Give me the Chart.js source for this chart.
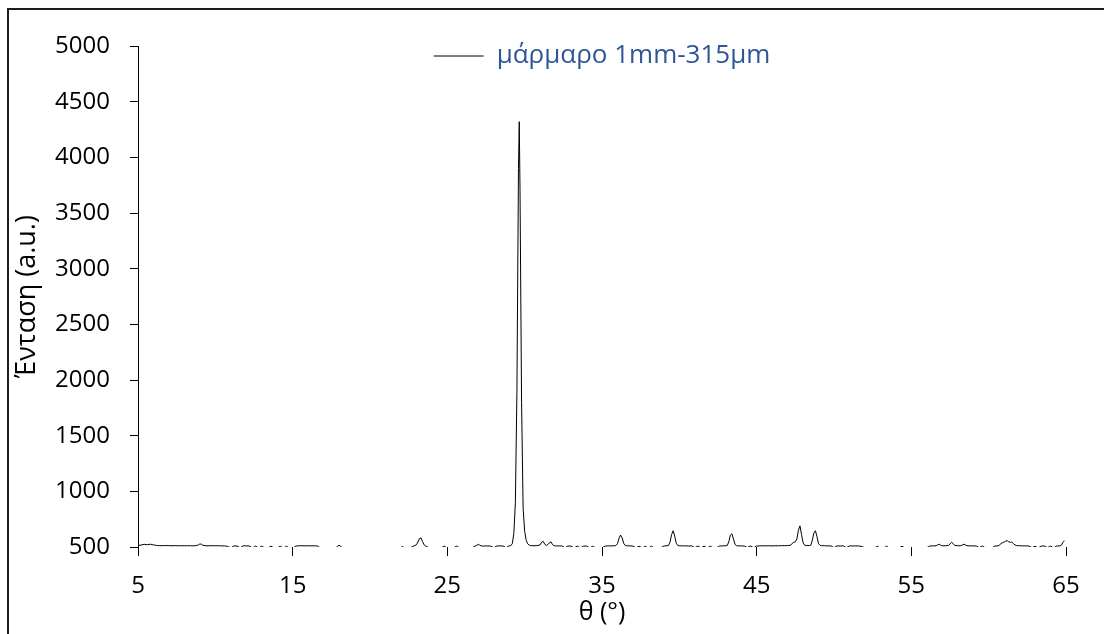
<!DOCTYPE html>
<html>
<head>
<meta charset="utf-8">
<script src="https://cdn.jsdelivr.net/npm/chart.js@4.4.1/dist/chart.umd.min.js"></script>
<style>
  html, body { margin: 0; padding: 0; background: #fff; overflow: hidden; }
  #wrap { position: relative; width: 1104px; height: 634px; }
  #xrd { position: absolute; left: 0; top: 0; }
  #frame { position: absolute; left: 7px; top: 8px; width: 1200px; height: 800px;
           border-left: 2px solid #1e1e1e; border-top: 2px solid #1e1e1e; pointer-events: none; }
</style>
</head>
<body>
<div id="wrap">
  <canvas id="xrd" width="1104" height="634"></canvas>
  <div id="frame"></div>
</div>
<script>
// 2θ (deg) and intensity
const angle = [
  5.0, 5.2, 5.4, 5.6, 5.8, 6.0, 6.2, 6.4, 6.6, 6.8, 7.0, 7.2, 7.4, 7.6, 7.8, 8.0, 8.2, 8.4, 8.6, 8.8,
  8.9, 9.0, 9.1, 9.2, 9.4, 9.6, 9.8, 10.0, 10.2, 10.4, 10.6, 10.8, 11.0, 11.2, 11.4, 11.6, 11.8, 12.0,
  12.2, 12.4, 12.6, 12.8, 13.0, 13.2, 13.4, 13.6, 13.8, 14.0, 14.2, 14.4, 14.6, 14.8, 15.0, 15.2, 15.4,
  15.6, 15.8, 16.0, 16.2, 16.4, 16.6, 16.8, 17.0, 17.2, 17.4, 17.6, 17.8, 17.9, 18.0, 18.1, 18.2, 18.4,
  18.6, 18.8, 19.0, 19.2, 19.4, 19.6, 19.8, 20.0, 20.2, 20.4, 20.6, 20.8, 21.0, 21.2, 21.4, 21.6, 21.8,
  22.0, 22.1, 22.2, 22.4, 22.6, 22.8, 23.0, 23.1, 23.2, 23.3, 23.4, 23.5, 23.6, 23.8, 24.0, 24.2, 24.4,
  24.6, 24.8, 25.0, 25.2, 25.4, 25.6, 25.8, 26.0, 26.2, 26.4, 26.6, 26.8, 26.9, 27.0, 27.1, 27.2, 27.4,
  27.6, 27.8, 28.0, 28.2, 28.4, 28.6, 28.8, 29.0, 29.1, 29.2, 29.3, 29.4, 29.5, 29.6, 29.65, 29.7, 29.8,
  29.9, 30.0, 30.1, 30.2, 30.3, 30.4, 30.6, 30.8, 31.0, 31.1, 31.2, 31.3, 31.4, 31.5, 31.6, 31.7, 31.8,
  31.9, 32.0, 32.2, 32.4, 32.6, 32.8, 33.0, 33.2, 33.4, 33.6, 33.8, 34.0, 34.2, 34.4, 34.6, 34.8, 35.0,
  35.2, 35.4, 35.6, 35.8, 35.9, 36.0, 36.1, 36.2, 36.3, 36.4, 36.5, 36.6, 36.8, 37.0, 37.2, 37.4, 37.6,
  37.8, 38.0, 38.2, 38.4, 38.6, 38.8, 39.0, 39.2, 39.3, 39.4, 39.5, 39.6, 39.7, 39.8, 39.9, 40.0, 40.2,
  40.4, 40.6, 40.8, 41.0, 41.2, 41.4, 41.6, 41.8, 42.0, 42.2, 42.4, 42.6, 42.8, 43.0, 43.1, 43.2, 43.3,
  43.4, 43.5, 43.6, 43.7, 43.8, 44.0, 44.2, 44.4, 44.6, 44.8, 45.0, 45.2, 45.4, 45.6, 45.8, 46.0, 46.2,
  46.4, 46.6, 46.8, 47.0, 47.2, 47.3, 47.4, 47.5, 47.6, 47.7, 47.8, 47.9, 48.0, 48.1, 48.2, 48.4, 48.5,
  48.6, 48.7, 48.8, 48.9, 49.0, 49.1, 49.2, 49.4, 49.6, 49.8, 50.0, 50.2, 50.4, 50.6, 50.8, 51.0, 51.2,
  51.4, 51.6, 51.8, 52.0, 52.2, 52.4, 52.6, 52.8, 53.0, 53.2, 53.4, 53.6, 53.8, 54.0, 54.2, 54.4, 54.6,
  54.8, 55.0, 55.2, 55.4, 55.6, 55.8, 56.0, 56.2, 56.4, 56.6, 56.7, 56.8, 56.9, 57.0, 57.2, 57.4, 57.5,
  57.6, 57.7, 57.8, 58.0, 58.2, 58.3, 58.4, 58.5, 58.6, 58.8, 59.0, 59.2, 59.4, 59.6, 59.8, 60.0, 60.2,
  60.4, 60.6, 60.7, 60.8, 60.9, 61.0, 61.1, 61.2, 61.3, 61.4, 61.5, 61.6, 61.7, 61.8, 62.0, 62.2, 62.4,
  62.6, 62.8, 63.0, 63.2, 63.4, 63.6, 63.8, 64.0, 64.2, 64.4, 64.6, 64.7, 64.8, 64.9
];
const counts = [
  512, 518, 524, 520, 525, 519, 514, 512, 512, 513, 512, 511, 512, 511, 512, 511, 512, 511, 511, 513,
  519, 527, 525, 515, 511, 511, 512, 511, 511, 510, 510, 505, 492, 510, 509, 493, 511, 510,
  509, 492, 508, 491, 508, 490, 491, 508, 490, 491, 507, 490, 507, 489, 491, 508, 511,
  511, 510, 511, 510, 511, 509, 491, 489, 488, 490, 488, 491, 508, 515, 508, 490, 487,
  489, 486, 488, 485, 487, 486, 488, 485, 487, 486, 488, 487, 489, 487, 489, 488, 490,
  491, 508, 491, 492, 493, 507, 520, 545, 576, 582, 548, 519, 508, 493, 491, 490, 491,
  492, 508, 491, 490, 492, 508, 491, 492, 491, 493, 492, 509, 515, 524, 516, 509, 509,
  510, 508, 493, 509, 510, 509, 494, 510, 512, 530, 620, 900, 1900, 3900, 4320, 3700, 1800,
  850, 640, 560, 528, 516, 512, 511, 512, 519, 543, 551, 524, 515, 522, 538, 547, 522,
  512, 510, 509, 510, 493, 509, 508, 492, 508, 492, 508, 509, 492, 507, 491, 490, 492,
  508, 510, 510, 511, 513, 530, 578, 607, 583, 534, 514, 511, 510, 508, 492, 507, 491,
  507, 491, 507, 490, 490, 493, 509, 511, 514, 544, 612, 646, 598, 534, 514, 511, 510,
  510, 509, 510, 494, 509, 493, 508, 492, 507, 491, 492, 509, 510, 511, 514, 548, 606,
  619, 572, 524, 512, 510, 510, 509, 495, 509, 493, 509, 510, 511, 510, 511, 510, 511,
  511, 512, 512, 513, 516, 533, 542, 547, 572, 651, 690, 612, 538, 516, 513, 513, 516,
  562, 626, 646, 592, 529, 515, 512, 511, 510, 510, 494, 510, 509, 510, 494, 510, 509,
  510, 509, 505, 491, 490, 489, 490, 507, 489, 490, 507, 489, 488, 490, 491, 507, 489,
  490, 489, 491, 490, 491, 492, 494, 509, 510, 511, 519, 525, 516, 511, 511, 514, 528,
  542, 531, 514, 511, 512, 519, 525, 518, 511, 510, 510, 509, 494, 508, 491, 490, 492,
  508, 510, 516, 533, 538, 545, 552, 557, 547, 542, 544, 531, 519, 513, 511, 510, 510,
  509, 494, 507, 492, 508, 509, 494, 508, 492, 509, 510, 516, 542, 557
];
const xTicks = [5, 15, 25, 35, 45, 55, 65];
const yTicks = [500, 1000, 1500, 2000, 2500, 3000, 3500, 4000, 4500, 5000];
const seriesName = 'μάρμαρο 1mm-315μm';

const tickFont = { family: '"Open Sans", sans-serif', size: 24 };
const titleFont = { family: '"Open Sans", sans-serif', size: 25 };

// move the legend down into the plot like the original
const legendShift = {
  id: 'legendShift',
  afterLayout(chart) {
    const lg = chart.legend;
    lg.top += 33;
    lg.bottom += 33;
  }
};

new Chart('xrd', {
  type: 'line',
  data: {
    datasets: [{
      label: seriesName,
      data: angle.map((a, i) => ({ x: a, y: counts[i] })),
      borderColor: '#000',
      borderWidth: 1,
      pointRadius: 0,
      tension: 0,
      clip: 0
    }]
  },
  options: {
    responsive: false,
    animation: false,
    layout: { padding: { left: 0, right: 38, top: 0, bottom: 0 } },
    plugins: {
      tooltip: { enabled: false },
      legend: {
        position: 'top',
        fullSize: false,
        labels: {
          usePointStyle: true,
          pointStyle: 'line',
          pointStyleWidth: 50,
          padding: 10,
          color: '#2F5597',
          font: { family: '"Open Sans", sans-serif', size: 26 }
        }
      }
    },
    scales: {
      x: {
        type: 'linear',
        min: 5,
        max: 65,
        afterBuildTicks: s => { s.ticks = xTicks.map(v => ({ value: v })); },
        afterFit: s => { s.height = 87; },
        border: { display: false },
        grid: { drawOnChartArea: false, drawTicks: true, tickLength: 9, color: '#000' },
        ticks: { color: '#000', font: tickFont, padding: 16, maxRotation: 0 },
        title: { display: true, text: 'θ (°)', color: '#000', font: titleFont, padding: { top: 0, bottom: 6 } }
      },
      y: {
        min: 500,
        max: 5000,
        afterBuildTicks: s => { s.ticks = yTicks.map(v => ({ value: v })); },
        afterFit: s => { s.width = 138; },
        border: { display: true, color: '#000', width: 1 },
        grid: { drawOnChartArea: false, drawTicks: true, tickLength: 8, color: '#000' },
        ticks: { color: '#000', font: tickFont, padding: 20, callback: v => String(v) },
        title: { display: true, text: 'Ένταση (a.u.)', color: '#000', font: { family: '"Open Sans", sans-serif', size: 27 }, padding: { top: 11, bottom: 0 } }
      }
    }
  },
  plugins: [legendShift]
});
</script>
</body>
</html>
